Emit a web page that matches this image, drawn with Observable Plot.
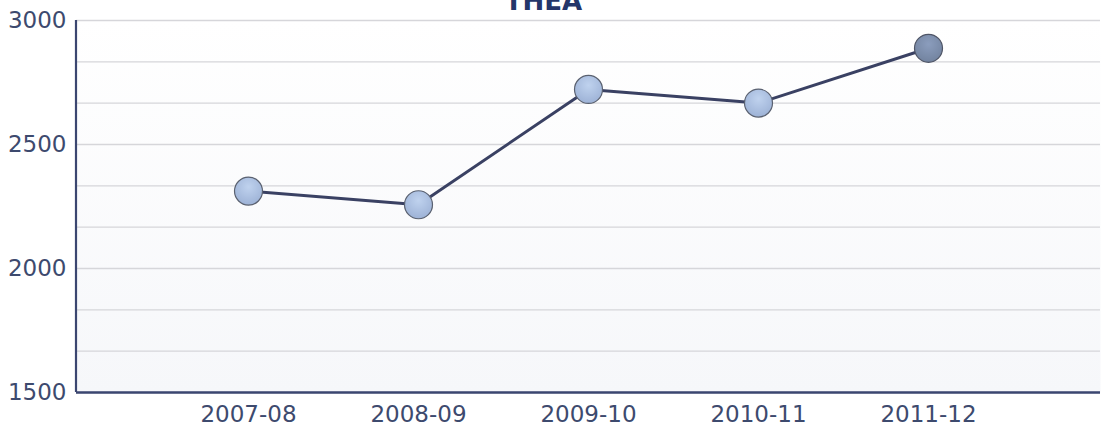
<!DOCTYPE html>
<html>
<head>
<meta charset="utf-8">
<script src="https://cdn.jsdelivr.net/npm/d3@7"></script>
<script src="https://cdn.jsdelivr.net/npm/@observablehq/plot@0.6"></script>
<style>
  html, body { margin: 0; padding: 0; background: #ffffff; overflow: hidden; }
  #chart svg { display: block; overflow: visible; }
</style>
</head>
<body>
<div id="chart"></div>
<script>
const title = "THEA";
const years = ["2007-08", "2008-09", "2009-10", "2010-11", "2011-12"];
const values = [2312, 2257, 2722, 2667, 2888];
const yTicks = [1500, 2000, 2500, 3000];
const gridTicks = [1500, 1666.67, 1833.33, 2000, 2166.67, 2333.33, 2500, 2666.67, 2833.33, 3000];

const data = years.map((year, i) => ({year, value: values[i]}));
const lastYear = years[years.length - 1];

const navy = "#3b4670";
const font = "Verdana, 'DejaVu Sans', sans-serif";

// left axis line drawn at the frame's left edge
function leftAxisLine(index, scales, values, dimensions) {
  const ns = "http://www.w3.org/2000/svg";
  const line = document.createElementNS(ns, "line");
  const x = dimensions.marginLeft;
  line.setAttribute("x1", x);
  line.setAttribute("x2", x);
  line.setAttribute("y1", dimensions.marginTop);
  line.setAttribute("y2", dimensions.height - dimensions.marginBottom);
  line.setAttribute("stroke", navy);
  line.setAttribute("stroke-width", 2.2);
  return line;
}

const chart = Plot.plot({
  width: 1111,
  height: 431,
  marginLeft: 76,
  marginRight: 11,
  marginTop: 20,
  marginBottom: 39,
  style: {fontFamily: font, fontSize: "23px", color: "#3d4a6e", background: "transparent"},
  x: {type: "point", domain: years, padding: 1, label: null},
  y: {domain: [1500, 3000], label: null},
  marks: [
    Plot.frame({fill: "url(#bgGrad)", stroke: null}),
    Plot.gridY(gridTicks, {stroke: "#d6d6da", strokeOpacity: 1, strokeWidth: 1.3}),
    Plot.axisY(yTicks, {tickSize: 0, tickPadding: 10, label: null, fontSize: 23, fill: "#3d4a6e", tickFormat: d3.format("d")}),
    Plot.axisX(years, {tickSize: 0, tickPadding: 13, label: null, fontSize: 23, fill: "#3d4a6e"}),
    leftAxisLine,
    Plot.ruleY([1500], {stroke: navy, strokeWidth: 2.5}),
    Plot.line(data, {x: "year", y: "value", stroke: "#3a4163", strokeWidth: 3}),
    Plot.dot(data.filter(d => d.year !== lastYear), {x: "year", y: "value", r: 14, fill: "url(#dotGrad)", stroke: "#5a6170", strokeWidth: 1.2}),
    Plot.dot(data.filter(d => d.year === lastYear), {x: "year", y: "value", r: 14, fill: "url(#dotGradDark)", stroke: "#4f5566", strokeWidth: 1.2}),
    Plot.text([title], {frameAnchor: "top", dy: -11, dx: -45, lineAnchor: "bottom", text: d => d, fontSize: 26, fontWeight: "bold", fill: "#24366a"})
  ]
});

const ns = "http://www.w3.org/2000/svg";
const defs = document.createElementNS(ns, "defs");
defs.innerHTML = `
  <radialGradient id="dotGrad" cx="50%" cy="35%" r="65%">
    <stop offset="0%" stop-color="#bfd2ee"/>
    <stop offset="100%" stop-color="#9db2d6"/>
  </radialGradient>
  <radialGradient id="dotGradDark" cx="50%" cy="35%" r="65%">
    <stop offset="0%" stop-color="#8b9dbd"/>
    <stop offset="100%" stop-color="#72839f"/>
  </radialGradient>
  <linearGradient id="bgGrad" x1="0" y1="0" x2="0" y2="1">
    <stop offset="0%" stop-color="#ffffff"/>
    <stop offset="100%" stop-color="#f6f7fa"/>
  </linearGradient>`;
chart.insertBefore(defs, chart.firstChild);
document.getElementById("chart").appendChild(chart);
</script>
</body>
</html>
